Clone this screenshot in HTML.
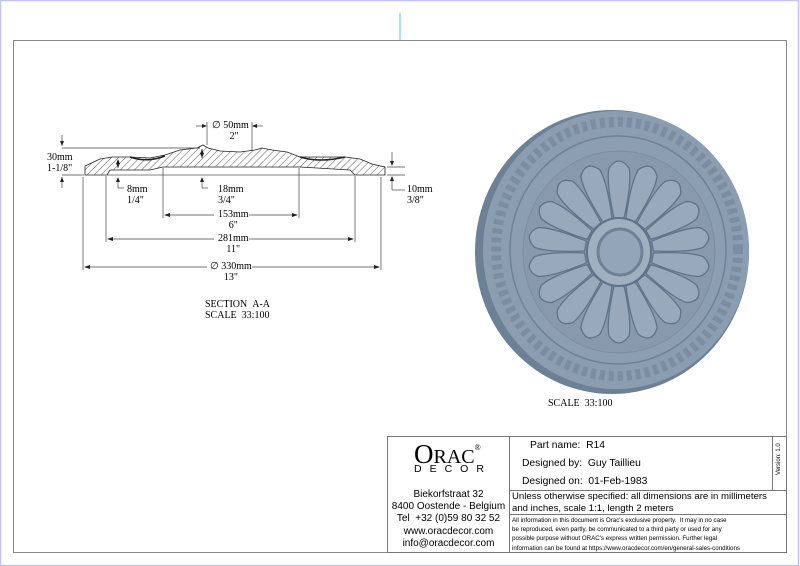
<!DOCTYPE html>
<html><head><meta charset="utf-8"><style>
html,body{margin:0;padding:0;background:#fff;}
body{width:800px;height:566px;overflow:hidden;position:relative;font-family:"Liberation Serif",serif;}
.t{position:absolute;white-space:nowrap;}
.s{font-family:"Liberation Sans","DejaVu Sans",sans-serif;}
</style></head><body>
<svg width="800" height="566" style="position:absolute;left:0;top:0" xmlns="http://www.w3.org/2000/svg">
<defs>
<pattern id="h" width="5" height="5" patternUnits="userSpaceOnUse" patternTransform="rotate(45)">
<line x1="0" y1="0" x2="0" y2="5" stroke="#333" stroke-width="0.8"/>
</pattern>
</defs>
<rect x="0.5" y="0.5" width="798" height="565" fill="none" stroke="#c4c4f4" stroke-width="1.5"/>
<rect x="13.5" y="40.5" width="773" height="512" fill="none" stroke="#888" stroke-width="1"/>
<line x1="400" y1="13" x2="400" y2="40" stroke="#8fd8ea" stroke-width="1.5"/>

<path d="M85,175 L85,166 L100,159 L112,157 L130,157 L150,158 L165,155 L180,150 L197,148 L203,145 L208,148 L220,151 L240,152 L255,150 L262,148 L272,150 L287,152 L300,157 L345,157 L360,159 L372,164 L385,167 L385,175 L355,175 L350,170 L300,167 L163,167 L150,170 L110,170 L107,175 Z" fill="url(#h)" stroke="#222" stroke-width="0.8"/>
<path d="M130,157 Q147,163 165,156" fill="none" stroke="#222" stroke-width="1.5"/>
<path d="M300,157 Q320,163 345,157" fill="none" stroke="#222" stroke-width="1.5"/>
<line x1="107" y1="175" x2="355" y2="175" stroke="#555" stroke-width="0.8"/>
<g stroke="#444" stroke-width="0.7" fill="none">
<line x1="62" y1="148" x2="200" y2="148"/>
<line x1="62" y1="175" x2="84" y2="175"/>
<line x1="62" y1="135" x2="62" y2="146"/><line x1="62" y1="177" x2="62" y2="188"/>
<line x1="207" y1="122" x2="207" y2="145"/><line x1="252" y1="122" x2="252" y2="150"/>
<line x1="196" y1="126" x2="205" y2="126"/><line x1="254" y1="126" x2="263" y2="126"/>
<line x1="202" y1="149" x2="202" y2="158"/>
<line x1="118" y1="160" x2="118" y2="168"/><line x1="118" y1="178" x2="118" y2="188"/><line x1="118" y1="188" x2="124" y2="188"/>
<line x1="202" y1="178" x2="202" y2="188"/><line x1="202" y1="188" x2="208" y2="188"/>
<line x1="387" y1="167" x2="405" y2="167"/><line x1="387" y1="175" x2="405" y2="175"/>
<line x1="392" y1="152" x2="392" y2="165"/><line x1="392" y1="177" x2="392" y2="190"/><line x1="392" y1="190" x2="405" y2="190"/>
<line x1="163" y1="168" x2="163" y2="218"/><line x1="299" y1="168" x2="299" y2="218"/>
<line x1="106" y1="176" x2="106" y2="242"/><line x1="355" y1="176" x2="355" y2="242"/>
<line x1="83" y1="177" x2="83" y2="270"/><line x1="381" y1="177" x2="381" y2="270"/>
<line x1="165" y1="215" x2="214" y2="215"/><line x1="249" y1="215" x2="297" y2="215"/>
<line x1="108" y1="239" x2="214" y2="239"/><line x1="249" y1="239" x2="353" y2="239"/>
<line x1="85" y1="267" x2="207" y2="267"/><line x1="252" y1="267" x2="379" y2="267"/>
</g>
<g fill="#222">
<path d="M62,146 l-2,-5 h4z"/><path d="M62,177 l-2,5 h4z"/>
<path d="M207,126 l-5,-2 v4z"/><path d="M252,126 l5,-2 v4z"/>
<path d="M202,149 l-2,5 h4z"/><path d="M202,158 l-2,-5 h4z"/>
<path d="M118,159 l-2,5 h4z"/><path d="M118,168 l-2,-5 h4z"/><path d="M118,177 l-2,5 h4z"/>
<path d="M202,177 l-2,5 h4z"/>
<path d="M392,166 l-2,-5 h4z"/><path d="M392,176 l-2,5 h4z"/>
<path d="M164,215 l6,-2 v4z"/><path d="M298,215 l-6,-2 v4z"/>
<path d="M107,239 l6,-2 v4z"/><path d="M354,239 l-6,-2 v4z"/>
<path d="M84,267 l6,-2 v4z"/><path d="M380,267 l-6,-2 v4z"/>
</g>

<!-- medallion -->
<ellipse cx="612" cy="252" rx="137" ry="142" fill="#6d8196"/>
<ellipse cx="616" cy="250" rx="133" ry="139" fill="#8b9db0"/>
<ellipse cx="617" cy="249" rx="121" ry="127" fill="none" stroke="#7a8da2" stroke-width="10" stroke-dasharray="5 4"/>
<ellipse cx="618" cy="250" rx="108" ry="114" fill="#8c9eb1" stroke="#6e8297" stroke-width="1.5"/>
<ellipse cx="619" cy="252" rx="96" ry="101" fill="#8899ac" stroke="#7a8ea2" stroke-width="1"/>
<g transform="translate(619,252)" fill="#97a9bb" stroke="#5f7389" stroke-width="1.3">
<g id="p"><path d="M-5,-34 Q-13,-70 -10,-84 Q0,-98 10,-84 Q13,-70 5,-34 Z"/></g>
<use href="#p" transform="rotate(20)"/>
<use href="#p" transform="rotate(40)"/><use href="#p" transform="rotate(60)"/>
<use href="#p" transform="rotate(80)"/><use href="#p" transform="rotate(100)"/>
<use href="#p" transform="rotate(120)"/><use href="#p" transform="rotate(140)"/>
<use href="#p" transform="rotate(160)"/><use href="#p" transform="rotate(180)"/>
<use href="#p" transform="rotate(200)"/><use href="#p" transform="rotate(220)"/>
<use href="#p" transform="rotate(240)"/><use href="#p" transform="rotate(260)"/>
<use href="#p" transform="rotate(280)"/><use href="#p" transform="rotate(300)"/>
<use href="#p" transform="rotate(320)"/><use href="#p" transform="rotate(340)"/>
</g>
<ellipse cx="619" cy="252" rx="32" ry="34" fill="#9fb0c1" stroke="#5f7389" stroke-width="2"/>
<ellipse cx="620" cy="252" rx="22" ry="23" fill="#93a5b8" stroke="#6e8297" stroke-width="3"/>

<g stroke="#777" stroke-width="1" fill="none">
<rect x="387.5" y="436.5" width="399" height="116"/>
<line x1="509.5" y1="436" x2="509.5" y2="552"/>
<line x1="772.5" y1="436" x2="772.5" y2="490"/>
<line x1="509" y1="490.5" x2="786" y2="490.5"/>
<line x1="509" y1="514.5" x2="786" y2="514.5"/>
</g>
</svg>

<div class="t" style="left:47px;top:152px;font-size:10px;line-height:11px;">30mm<br>1-1/8"</div>
<div class="t" style="left:212px;top:120px;font-size:10px;line-height:11px;text-align:center;">∅ 50mm<br>&nbsp;&nbsp;&nbsp;2"</div>
<div class="t" style="left:127px;top:184px;font-size:10px;line-height:11px;">8mm<br>1/4"</div>
<div class="t" style="left:218px;top:184px;font-size:10px;line-height:11px;">18mm<br>3/4"</div>
<div class="t" style="left:407px;top:184px;font-size:10px;line-height:11px;">10mm<br>3/8"</div>
<div class="t" style="left:218px;top:209px;font-size:10px;line-height:11px;text-align:center;">153mm<br>6"</div>
<div class="t" style="left:218px;top:233px;font-size:10px;line-height:11px;text-align:center;">281mm<br>11"</div>
<div class="t" style="left:210px;top:261px;font-size:10px;line-height:11px;text-align:center;">∅ 330mm<br>13"</div>
<div class="t" style="left:205px;top:299px;font-size:10px;line-height:11px;">SECTION &nbsp;A-A<br>SCALE &nbsp;33:100</div>
<div class="t" style="left:548px;top:398px;font-size:10px;">SCALE &nbsp;33:100</div>

<div class="t" style="left:414px;top:434px;font-size:27px;line-height:28px;">O<span style="font-size:20px">RAC</span><sup style="font-size:8px;vertical-align:13px">®</sup></div>
<div class="t s" style="left:414px;top:464px;font-size:10.5px;line-height:11px;letter-spacing:8px;">DECOR</div>
<div class="t s" style="left:388px;top:489px;width:121px;text-align:center;font-size:10px;line-height:12.2px;">Biekorfstraat 32<br>8400 Oostende - Belgium<br>Tel &nbsp;+32 (0)59 80 32 52<br>www.oracdecor.com<br>info@oracdecor.com</div>
<div class="t s" style="left:530px;top:440px;font-size:10.3px;">Part name: &nbsp;R14</div>
<div class="t s" style="left:522px;top:458px;font-size:10.3px;">Designed by: &nbsp;Guy Taillieu</div>
<div class="t s" style="left:522px;top:476px;font-size:10.3px;">Designed on: &nbsp;01-Feb-1983</div>
<div class="t s" style="left:776px;top:475px;font-size:6px;transform:rotate(-90deg);transform-origin:0 0;">Version: 1.0</div>
<div class="t s" style="left:512px;top:491px;font-size:9.6px;line-height:11.5px;">Unless otherwise specified: all dimensions are in millimeters<br>and inches, scale 1:1, length 2 meters</div>
<div class="t s" style="left:512px;top:516px;font-size:6.2px;line-height:9.2px;">All information in this document is Orac's exclusive property. &nbsp;It may in no case<br>be reproduced, even partly, be communicated to a third party or used for any<br>possible purpose without ORAC's express written permission. Further legal<br>information can be found at https://www.oracdecor.com/en/general-sales-conditions</div>
</body></html>
